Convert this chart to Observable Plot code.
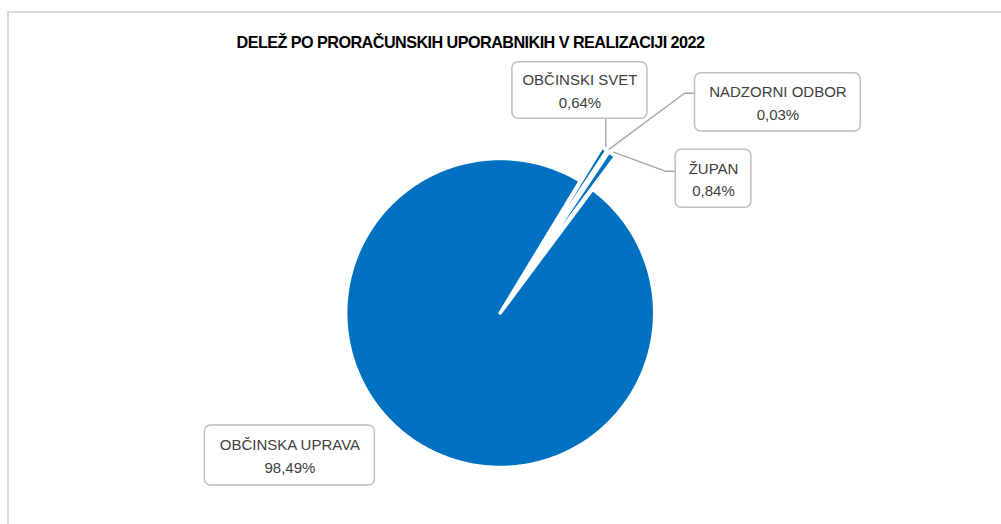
<!DOCTYPE html>
<html><head><meta charset="utf-8">
<script src="https://cdn.jsdelivr.net/npm/d3@7"></script>
<script src="https://cdn.jsdelivr.net/npm/@observablehq/plot@0.6"></script>
<style>
html,body{margin:0;padding:0;background:#fff;overflow:hidden;width:1001px;height:524px}
#frame{position:absolute;left:7px;top:11px;width:1100px;height:700px;border-left:2px solid #d9d9d9;border-top:2px solid #d9d9d9;}
#chart{position:absolute;left:0;top:0}
#title{position:absolute;left:0;top:32px;width:941px;text-align:center;font-family:"Liberation Sans",Arial,sans-serif;font-weight:bold;font-size:16.2px;letter-spacing:-0.55px;line-height:20px;color:#000;white-space:nowrap}
</style></head><body>
<div id="frame"></div>
<div id="chart"></div>
<div id="title">DELEŽ PO PRORAČUNSKIH UPORABNIKIH V REALIZACIJI 2022</div>
<script>
// ---- data ----
const categories = ["OBČINSKA UPRAVA", "OBČINSKI SVET", "NADZORNI ODBOR", "ŽUPAN"];
const shares = [98.49, 0.64, 0.03, 0.84];

// ---- layout (pie geometry and manually placed label boxes, px relative to pie centre) ----
const PIE = {cx: 499.7, cy: 312.5, r: 154.5, startDeg: 36.7};
const EXPLODE = [0, 40, 40, 40];
const LABELS = [
  {dx: -210.3, dy: 142.5, w: 170, h: 60, leader: null},
  {dx: 79.7, dy: -222.5, w: 135, h: 56.6, leader: "vertical"},
  {dx: 277.7, dy: -210.7, w: 165.7, h: 58.3, leader: "elbow", attach: -9.1},
  {dx: 213.3, dy: -134.2, w: 75.7, h: 58, leader: "elbow", attach: -7.6}
];

const R = PIE.r;
const total = d3.sum(shares);
const rad = d => d * Math.PI / 180;

const slicePts = [];
const leaderPts = [];
const boxes = [];
let cum = 0;
categories.forEach((name, i) => {
  const a0 = PIE.startDeg + 360 * cum / total;
  cum += shares[i];
  const a1 = PIE.startDeg + 360 * cum / total;
  const mid = rad((a0 + a1) / 2);
  const e = EXPLODE[i] / R;
  const ox = e * Math.sin(mid), oy = e * Math.cos(mid);
  slicePts.push({name, x: ox, y: oy});
  const n = Math.max(2, Math.ceil((a1 - a0) / 0.5));
  for (let k = 0; k <= n; k++) {
    const a = rad(a0 + (a1 - a0) * k / n);
    slicePts.push({name, x: ox + Math.sin(a), y: oy + Math.cos(a)});
  }
  const L = LABELS[i];
  const box = {
    name,
    pct: shares[i].toFixed(2).replace(".", ",") + "%",
    x: L.dx / R, y: -L.dy / R,
    x1: (L.dx - L.w / 2) / R, x2: (L.dx + L.w / 2) / R,
    y1: -(L.dy - L.h / 2) / R, y2: -(L.dy + L.h / 2) / R
  };
  boxes.push(box);
  const tr = 1 + e + 0.015;
  const tip = {x: tr * Math.sin(mid), y: tr * Math.cos(mid)};
  if (L.leader === "vertical") {
    leaderPts.push({name, x: tip.x, y: tip.y}, {name, x: tip.x, y: box.y2});
  } else if (L.leader === "elbow") {
    const ay = -(L.dy + L.attach) / R;
    leaderPts.push({name, x: tip.x, y: tip.y}, {name, x: box.x1 - 10.5 / R, y: ay}, {name, x: box.x1, y: ay});
  }
});

const font = {fontFamily: "'Liberation Sans', Arial, sans-serif", fontSize: 15, fill: "#404040"};

const plot = Plot.plot({
  width: 1001, height: 524, margin: 0,
  x: {domain: [-1, 1], range: [PIE.cx - R, PIE.cx + R], axis: null},
  y: {domain: [-1, 1], range: [PIE.cy + R, PIE.cy - R], axis: null},
  style: {background: "transparent", overflow: "visible"},
  marks: [
    Plot.line(slicePts, {x: "x", y: "y", z: "name", fill: "#0070C0", stroke: "white", strokeWidth: 3.5, curve: "linear-closed", strokeLinejoin: "round"}),
    Plot.line(leaderPts, {x: "x", y: "y", z: "name", stroke: "#a6a6a6", strokeWidth: 1.4, strokeLinejoin: "miter"}),
    Plot.rect(boxes, {x1: "x1", x2: "x2", y1: "y1", y2: "y2", fill: "white", stroke: "#bfbfbf", strokeWidth: 1.5, rx: 6}),
    Plot.text(boxes, {x: "x", y: "y", text: "name", dy: -10, ...font}),
    Plot.text(boxes, {x: "x", y: "y", text: "pct", dy: 12.5, ...font})
  ]
});
document.getElementById("chart").appendChild(plot);
</script>
</body></html>
